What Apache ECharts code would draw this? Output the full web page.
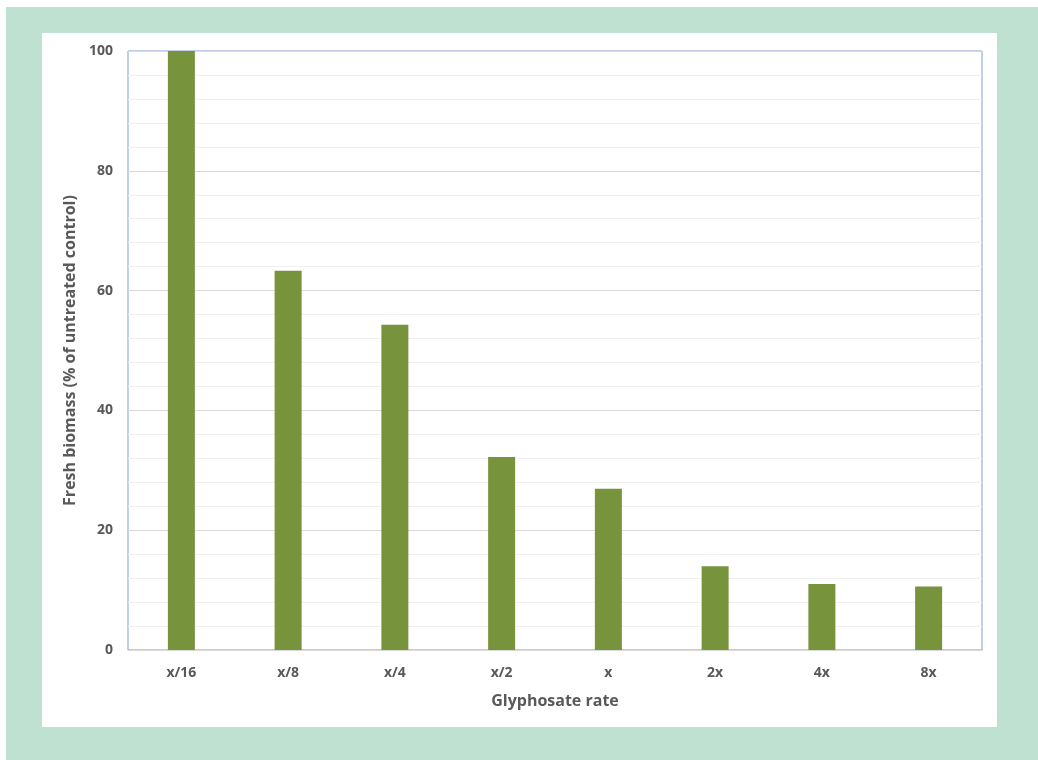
<!DOCTYPE html>
<html>
<head>
<meta charset="utf-8">
<script src="https://cdn.jsdelivr.net/npm/echarts@6/dist/echarts.min.js"></script>
<style>
  body { margin: 0; background: #fff; }
  #frame { position: absolute; left: 6px; top: 7px; width: 1032px; height: 753px; background: #bfe1d2; }
  #panel { position: absolute; left: 42px; top: 33px; width: 955px; height: 694px; background: #fff; }
  #chart { position: absolute; left: 0; top: 0; width: 1038px; height: 760px; }
</style>
</head>
<body>
<div id="frame"></div>
<div id="panel"></div>
<div id="chart"></div>
<script>
// glyphosate rates and fresh biomass (% of untreated control)
const rates = ['x/16', 'x/8', 'x/4', 'x/2', 'x', '2x', '4x', '8x']
const biomass = [100, 63.3, 54.3, 32.2, 26.9, 14.0, 11.0, 10.6]

const txt = '#595959'
const font = '"Open Sans", "Liberation Sans", sans-serif'

const myChart = echarts.init(document.getElementById('chart'))
const option = {
  animation: false,
  grid: {
    left: 128,
    top: 51,
    right: 56,
    bottom: 110,
    show: true,
    borderColor: '#7f9fd4',
    borderWidth: 1
  },
  xAxis: {
    type: 'category',
    data: rates,
    name: 'Glyphosate rate',
    nameLocation: 'middle',
    nameGap: 43,
    nameTextStyle: { color: txt, fontSize: 16, fontWeight: 'bold', fontFamily: font },
    axisLine: { show: true, lineStyle: { color: '#d9d9d9' } },
    axisTick: { show: false },
    axisLabel: { color: txt, fontSize: 14, fontWeight: 'bold', fontFamily: font, margin: 16 }
  },
  yAxis: {
    type: 'value',
    min: 0,
    max: 100,
    interval: 20,
    name: 'Fresh biomass (% of untreated control)',
    nameLocation: 'middle',
    nameRotate: 90,
    nameGap: 40,
    nameTextStyle: { color: txt, fontSize: 16, fontWeight: 'bold', fontFamily: font },
    axisLine: { show: false },
    axisTick: { show: false },
    axisLabel: { color: txt, fontSize: 14, fontWeight: 'bold', fontFamily: font, margin: 15 },
    splitLine: { lineStyle: { color: '#d9d9d9' } },
    minorTick: { show: false, splitNumber: 5 },
    minorSplitLine: { show: true, lineStyle: { color: '#f0f0f0' } }
  },
  series: [{
    type: 'bar',
    data: biomass,
    barWidth: 27,
    itemStyle: { color: '#77933c' }
  }]
}
myChart.setOption(option)
</script>
</body>
</html>
